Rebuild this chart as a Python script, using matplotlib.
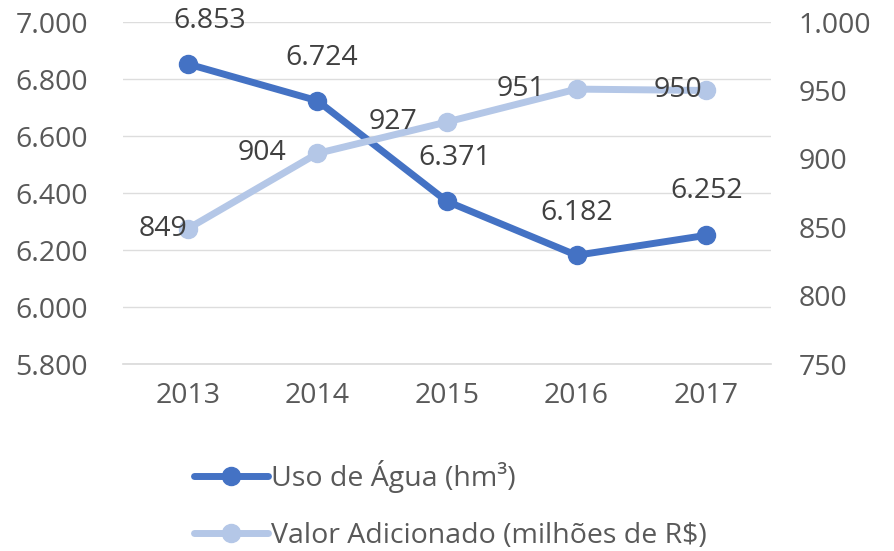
import matplotlib.pyplot as plt
from matplotlib.ticker import FuncFormatter

# Data
anos = ["2013", "2014", "2015", "2016", "2017"]
uso_agua = [6853, 6724, 6371, 6182, 6252]
valor_adicionado = [849, 904, 927, 951, 950]

# label offsets in pixels (Excel-like placement)
uso_offsets = [(22, 43), (4, 43), (8, 43), (0, 42), (0, 44)]
valor_offsets = [(-25, 0), (-55, 0), (-54, 0), (-56, 0), (-28, 0)]

plt.rcParams['font.family'] = ['Open Sans', 'DejaVu Sans']
txt_color = '#595959'
azul = '#4472C4'
azul_claro = '#B4C7E7'
fs = 20.5


def br_fmt(v, pos=None):
    return f"{v:,.0f}".replace(",", ".")


fig = plt.figure(figsize=(8.94, 5.51), dpi=100)
ax = fig.add_axes([0.1376, 0.339, 0.7248, 0.621])
ax2 = ax.twinx()

x = range(len(anos))
ax.plot(x, uso_agua, color=azul, lw=5, marker='o', ms=13, label='Uso de Água (hm³)',
        solid_capstyle='round', zorder=3)
ax2.plot(x, valor_adicionado, color=azul_claro, lw=5, marker='o', ms=13,
         label='Valor Adicionado (milhões de R$)', solid_capstyle='round', zorder=3)

ax.set_xlim(-0.5, len(anos) - 0.5)
ax.set_ylim(5800, 7000)
ax.set_yticks(range(5800, 7001, 200))
ax2.set_ylim(750, 1000)
ax2.set_yticks(range(750, 1001, 50))
ax.yaxis.set_major_formatter(FuncFormatter(br_fmt))
ax2.yaxis.set_major_formatter(FuncFormatter(br_fmt))
ax.set_xticks(list(x))
ax.set_xticklabels(anos)

ax.grid(axis='y', color='#DDDDDD', lw=1.0)
ax.set_axisbelow(True)
for a in (ax, ax2):
    for s in a.spines.values():
        s.set_visible(False)
    a.tick_params(length=0, labelsize=fs, colors=txt_color)
ax.spines['bottom'].set_visible(True)
ax.spines['bottom'].set_color('#D9D9D9')
ax.spines['bottom'].set_linewidth(1.2)
ax.tick_params(axis='x', pad=13)
ax.tick_params(axis='y', pad=25)
ax2.tick_params(axis='y', pad=20)

for i, v in enumerate(uso_agua):
    ax.annotate(br_fmt(v), (i, v), xytext=uso_offsets[i], textcoords='offset pixels',
                ha='center', va='center', fontsize=fs, color='#404040')
for i, v in enumerate(valor_adicionado):
    ax2.annotate(br_fmt(v), (i, v), xytext=valor_offsets[i], textcoords='offset pixels',
                 ha='center', va='center', fontsize=fs, color='#404040')

h1, l1 = ax.get_legend_handles_labels()
h2, l2 = ax2.get_legend_handles_labels()
leg = fig.legend(h1 + h2, l1 + l2, loc='upper left',
                 bbox_to_anchor=(180 / 894, 1 - 446 / 551),
                 bbox_transform=fig.transFigure, frameon=False, fontsize=fs,
                 handlelength=2.6, handletextpad=0.1, labelspacing=1.0, borderpad=0)
for t in leg.get_texts():
    t.set_color(txt_color)

fig.savefig('out.png', dpi=100)
